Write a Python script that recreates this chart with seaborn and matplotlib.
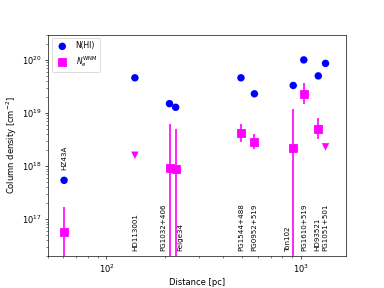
import matplotlib
matplotlib.use("Agg")
import matplotlib.pyplot as plt
import seaborn as sns
import numpy as np
import pandas as pd

names = ['HZ43A', 'HD113001', 'PG1032+406', 'Feige34', 'PG1544+488',
         'PG0952+519', 'Ton102', 'PG1610+519', 'HD93521', 'PG1051+501']
dist = [60.5, 140, 211, 227, 492, 577, 914, 1036, 1230, 1340]
n_hi = [5.4e17, 4.6e19, 1.5e19, 1.28e19, 4.6e19, 2.3e19, 3.3e19, 1.0e20, 5.0e19, 8.6e19]

# WNM electron column measurements
wnm_names = ['HZ43A', 'PG1032+406', 'Feige34', 'PG1544+488', 'PG0952+519',
             'Ton102', 'PG1610+519', 'HD93521']
wnm_val = [5.7e16, 9.4e17, 8.9e17, 4.2e18, 2.9e18, 2.2e18, 2.3e19, 5.1e18]
wnm_lo = [1.0e16, 1.0e16, 1.0e16, 2.9e18, 2.1e18, 1.0e16, 1.46e19, 3.2e18]
wnm_hi = [1.7e17, 6.2e18, 5.0e18, 6.2e18, 4.0e18, 1.2e19, 3.7e19, 8.0e18]

# upper limits
ul_names = ['HD113001', 'PG1051+501']
ul_val = [1.6e18, 2.3e18]

df = pd.DataFrame({'name': names, 'dist': dist, 'nhi': n_hi})
dmap = dict(zip(names, dist))

fig, ax = plt.subplots(figsize=(6.4, 4.8), dpi=60)

sns.scatterplot(data=df, x='dist', y='nhi', ax=ax, color='blue', marker='o',
                s=80, edgecolor='none', label='N(HI)', zorder=3)

wx = [dmap[n] for n in wnm_names]
wv = np.array(wnm_val)
yerr = [wv - np.array(wnm_lo), np.array(wnm_hi) - wv]
ax.errorbar(wx, wv, yerr=yerr, fmt='s', color='magenta', ms=9, elinewidth=2,
            capsize=0, label=r'$N_e^{\rm WNM}$', zorder=3)

sns.scatterplot(x=[dmap[n] for n in ul_names], y=ul_val, ax=ax, color='magenta',
                marker='v', s=80, edgecolor='none', zorder=3)

ax.set_xscale('log')
ax.set_yscale('log')
ax.set_xlim(50, 1700)
ax.set_ylim(2e16, 3e20)

offsets = {'PG1032+406': -7.5, 'Feige34': 5, 'Ton102': -6, 'HD93521': -1.5}
for n in names:
    if n == 'HZ43A':
        yy = 8.3e17
    else:
        yy = 2.5e16
    ax.annotate(n, (dmap[n], yy), xytext=(offsets.get(n, 0), 0),
                textcoords='offset points', rotation=90, ha='center',
                va='bottom', fontsize=8.5)

ax.set_xlabel('Distance [pc]')
ax.set_ylabel(r'Column density [cm$^{-2}$]')
ax.legend(loc='upper left', fontsize=9)

fig.savefig('out.png', dpi=60)
